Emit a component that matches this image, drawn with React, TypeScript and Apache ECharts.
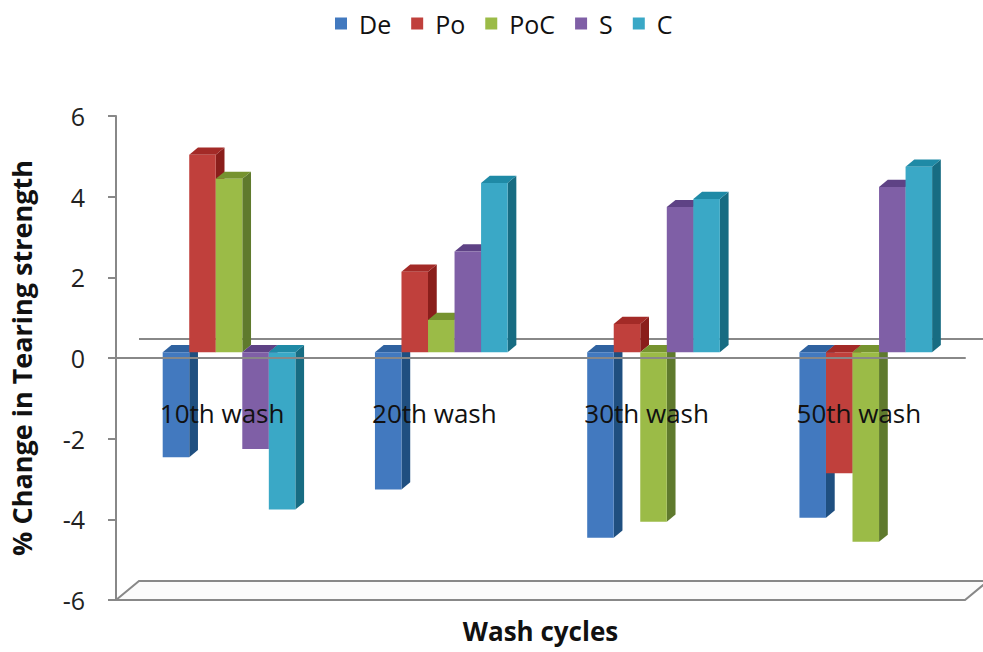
import React, { useEffect, useRef } from "react";
import * as echarts from "echarts";

// ---- data ----
const categories = ["10th wash", "20th wash", "30th wash", "50th wash"];
const seriesNames = ["De", "Po", "PoC", "S", "C"];
const deValues = [-2.6, -3.4, -4.6, -4.1];
const poValues = [4.9, 2.0, 0.7, -3.0];
const pocValues = [4.3, 0.8, -4.2, -4.7];
const sValues = [-2.4, 2.5, 3.6, 4.1];
const cValues = [-3.9, 4.2, 3.8, 4.6];
const yTicks = { min: -6, max: 6, interval: 2 };

// ---- styles ----
const FRONT = ["#4279bf", "#c0403c", "#9bbb47", "#7f5fa6", "#3aa8c6"];
const SIDE = ["#1f4f80", "#8a1e1b", "#5f7a2d", "#5a3f80", "#176c82"];
const TOP = ["#2f62a0", "#a32a27", "#76932f", "#5e4285", "#1f8aa6"];
const GRAY = "#888888";
const FONT = "'Open Sans', 'Noto Sans', sans-serif";
const FLOOR_DX = 23;
const FLOOR_DY = -19;
const BAR_OFF = 0.3; // bar front position inside floor depth
const BAR_DEPTH = 0.38; // bar depth as a fraction of floor depth
const BAR_RATIO = 0.125;

const allValues = [deValues, poValues, pocValues, sValues, cValues];

function makeBarRender(si: number) {
  return (params: any, api: any) => {
    const cat = api.value(0);
    const val = api.value(1);
    const base = api.coord([cat, 0]);
    const end = api.coord([cat, val]);
    const band = api.size([1, 0])[0];
    const bw = band * BAR_RATIO;
    const x0 = base[0] - 2.5 * bw + si * bw + FLOOR_DX * BAR_OFF;
    const x1 = x0 + bw;
    const yZero = base[1] + FLOOR_DY * BAR_OFF;
    const yEnd = end[1] + FLOOR_DY * BAR_OFF;
    const yTop = Math.min(yZero, yEnd);
    const yBot = Math.max(yZero, yEnd);
    const dx = FLOOR_DX * BAR_DEPTH;
    const dy = FLOOR_DY * BAR_DEPTH;
    return {
      type: "group",
      children: [
        {
          type: "polygon",
          shape: { points: [[x1, yTop], [x1 + dx, yTop + dy], [x1 + dx, yBot + dy], [x1, yBot]] },
          style: { fill: SIDE[si] },
        },
        {
          type: "polygon",
          shape: { points: [[x0, yTop], [x0 + dx, yTop + dy], [x1 + dx, yTop + dy], [x1, yTop]] },
          style: { fill: TOP[si] },
        },
        {
          type: "rect",
          shape: { x: x0, y: yTop, width: bw, height: yBot - yTop },
          style: { fill: FRONT[si] },
        },
      ],
    };
  };
}

function renderFloor(params: any, api: any) {
  const cs = params.coordSys;
  const xl = cs.x;
  const xr = cs.x + cs.width;
  const yb = api.coord([0, yTicks.min])[1];
  const y0 = api.coord([0, 0])[1];
  return {
    type: "group",
    children: [
      {
        type: "polygon",
        shape: { points: [[xl, yb], [xl + FLOOR_DX, yb + FLOOR_DY], [xr + FLOOR_DX, yb + FLOOR_DY], [xr, yb]] },
        style: { fill: "#fbfbfb", stroke: GRAY, lineWidth: 2 },
      },
      {
        type: "line",
        shape: { x1: xl + FLOOR_DX, y1: y0 + FLOOR_DY, x2: xr + FLOOR_DX, y2: y0 + FLOOR_DY },
        style: { stroke: GRAY, lineWidth: 2 },
      },
    ],
  };
}

export default function App() {
  const ref = useRef<HTMLDivElement>(null);
  useEffect(() => {
    if (!ref.current) return;
    const chart = echarts.init(ref.current, undefined, { renderer: "svg" });
    const barSeries = seriesNames.map((name, si) => ({
      name,
      type: "custom",
      z: 2,
      itemStyle: { color: FRONT[si] },
      renderItem: makeBarRender(si),
      encode: { x: 0, y: 1 },
      data: allValues[si].map((v, i) => [i, v]),
    }));
    chart.setOption({
      animation: false,
      color: FRONT,
      textStyle: { fontFamily: FONT },
      legend: {
        data: seriesNames,
        top: 6,
        left: 330,
        icon: "rect",
        itemWidth: 12,
        itemHeight: 12,
        itemGap: 20,
        textStyle: { fontSize: 25, color: "#111", fontFamily: FONT, padding: [0, 0, 0, 7] },
      },
      grid: { left: 116, right: 18, top: 116, bottom: 52, containLabel: false, outerBoundsMode: "none" },
      xAxis: [
        {
          type: "category",
          data: categories,
          position: "bottom",
          z: 10,
          axisLine: { show: true, onZero: true, lineStyle: { color: GRAY, width: 2 } },
          axisTick: { show: false },
          axisLabel: { show: false },
          splitLine: { show: false },
        },
        {
          type: "category",
          data: categories,
          position: "bottom",
          z: 10,
          axisLine: { show: false, onZero: false },
          axisTick: { show: false },
          axisLabel: { margin: -200, fontSize: 26, color: "#111", fontFamily: FONT },
          splitLine: { show: false },
          name: "Wash cycles",
          nameLocation: "middle",
          nameGap: 18,
          nameMoveOverlap: false,
          nameTextStyle: { fontSize: 26, fontWeight: "bold", color: "#111", fontFamily: FONT },
        },
      ],
      yAxis: {
        type: "value",
        min: yTicks.min,
        max: yTicks.max,
        interval: yTicks.interval,
        axisLine: { show: true, lineStyle: { color: GRAY, width: 2 } },
        axisTick: { show: true, length: 8, lineStyle: { color: GRAY, width: 2 } },
        axisLabel: { margin: 31, fontSize: 25, color: "#222", fontFamily: FONT, padding: [6, 0, 0, 0] },
        splitLine: { show: false },
        name: "% Change in Tearing strength",
        nameLocation: "middle",
        nameGap: 81,
        nameTextStyle: { fontSize: 27, fontWeight: "bold", color: "#111", fontFamily: FONT },
      },
      series: [
        {
          name: "floor",
          type: "custom",
          z: 1,
          silent: true,
          itemStyle: { color: GRAY },
          renderItem: renderFloor,
          data: [[0, 0]],
          encode: { x: 0, y: 1 },
        },
        ...barSeries,
      ],
    });
    return () => chart.dispose();
  }, []);
  return (
    <div
      ref={ref}
      style={{ position: "fixed", left: 0, top: 0, width: 983, height: 652, background: "#fff" }}
    />
  );
}
